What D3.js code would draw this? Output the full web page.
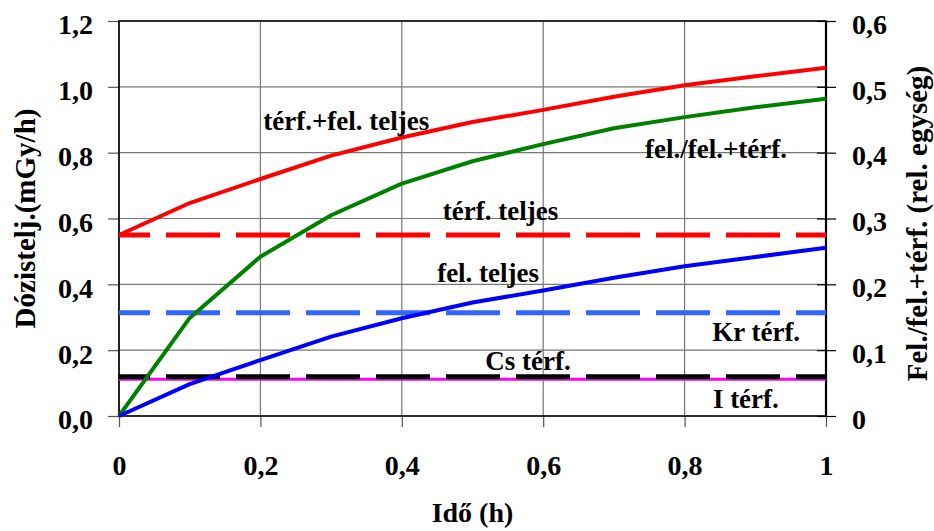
<!DOCTYPE html>
<html>
<head>
<meta charset="utf-8">
<script src="https://cdn.jsdelivr.net/npm/d3@7"></script>
<style>
  body { margin: 0; background: #fff; }
  svg { display: block; font-family: "Liberation Serif", "Times New Roman", serif; font-weight: bold; }
</style>
</head>
<body>
<svg id="chart" width="934" height="531"></svg>
<script>
// data
const time = [0, 0.1, 0.2, 0.3, 0.4, 0.5, 0.6, 0.7, 0.8, 0.9, 1];
const felTeljes = [0, 0.097, 0.170, 0.241, 0.297, 0.345, 0.381, 0.420, 0.455, 0.483, 0.511];
const terfFelTeljes = [0.55, 0.647, 0.720, 0.791, 0.846, 0.893, 0.930, 0.970, 1.005, 1.032, 1.058];
const felArany = [0, 0.149, 0.242, 0.305, 0.353, 0.387, 0.413, 0.437, 0.454, 0.469, 0.482]; // right axis

const terfTeljes = 0.55;
const krTerf = 0.314;
const csTerf = 0.1195;
const iTerf = 0.1115;

const xTicks = [0, 0.2, 0.4, 0.6, 0.8, 1];
const leftTicks = [0, 0.2, 0.4, 0.6, 0.8, 1.0, 1.2];
const rightTicks = [0, 0.1, 0.2, 0.3, 0.4, 0.5, 0.6];

const labels = ['térf.+fel. teljes', 'fel./fel.+térf.', 'térf. teljes', 'fel. teljes', 'Kr térf.', 'Cs térf.', 'I térf.'];
const labelAt = [[0.204, 0.869], [0.744, 0.783], [0.458, 0.595], [0.45, 0.407], [0.839, 0.228], [0.518, 0.14], [0.84, 0.024]];

// layout
const mLeft = 119, mRight = 826, mTop = 21, mBottom = 416;
const svg = d3.select('#chart');

const x = d3.scaleLinear().domain([0, 1]).range([mLeft, mRight]);
const yL = d3.scaleLinear().domain([0, 1.2]).range([mBottom, mTop]);
const yR = d3.scaleLinear().domain([0, 0.6]).range([mBottom, mTop]);

const comma = v => d3.format('.1f')(v).replace('.', ',');
const fmtX = v => (v === 0 || v === 1) ? String(v) : comma(v);
const fmtR = v => v === 0 ? '0' : comma(v);

// grid
svg.append('g').selectAll('line').data(leftTicks).join('line')
  .attr('x1', mLeft).attr('x2', mRight)
  .attr('y1', d => yL(d)).attr('y2', d => yL(d))
  .attr('stroke', '#777').attr('stroke-width', 1.2);
svg.append('g').selectAll('line').data(xTicks).join('line')
  .attr('x1', d => x(d)).attr('x2', d => x(d))
  .attr('y1', mTop).attr('y2', mBottom)
  .attr('stroke', '#777').attr('stroke-width', 1.2);

// axes
const styleAxis = g => {
  g.select('.domain').remove();
  g.selectAll('.tick line').attr('stroke', '#555').attr('stroke-width', 1.2);
  g.selectAll('.tick text').attr('fill', '#000').style('font-size', '28px')
    .style('font-family', '"Liberation Serif", serif').style('font-weight', 'bold');
};

const gL = svg.append('g').attr('transform', `translate(${mLeft},0)`)
  .call(d3.axisLeft(yL).tickValues(leftTicks).tickSize(11).tickPadding(15).tickFormat(comma))
  .call(styleAxis);
gL.selectAll('.tick text').attr('dy', '0.46em');

const gR = svg.append('g').attr('transform', `translate(${mRight},0)`)
  .call(d3.axisRight(yR).tickValues(rightTicks).tickSize(10).tickPadding(16).tickFormat(fmtR))
  .call(styleAxis);
gR.selectAll('.tick text').attr('dy', '0.44em');
gR.selectAll('.tick line').attr('x1', -9).attr('stroke', '#000');

const gX = svg.append('g').attr('transform', `translate(0,${mBottom})`)
  .call(d3.axisBottom(x).tickValues(xTicks).tickSize(11).tickPadding(28).tickFormat(fmtX))
  .call(styleAxis);

// frame
svg.append('path')
  .attr('d', `M${mLeft},${mTop}H${mRight}V${mBottom}H${mLeft}Z`)
  .attr('fill', 'none').attr('stroke', '#000').attr('stroke-width', 1.6);
svg.append('line').attr('x1', mRight).attr('x2', mRight).attr('y1', mTop).attr('y2', mBottom)
  .attr('stroke', '#000').attr('stroke-width', 2.2);

// horizontal constant lines
const ends = [time[0], time[time.length - 1]];
const flat = v => d3.line().x(d => x(d)).y(() => yL(v))(ends);

svg.append('path').attr('d', flat(iTerf))
  .attr('fill', 'none').attr('stroke', '#ff00ff').attr('stroke-width', 3);
const dashed = [[csTerf, '#000000'], [krTerf, '#3366ff'], [terfTeljes, '#ff0000']];
dashed.forEach(([v, c]) => {
  svg.append('path').attr('d', flat(v))
    .attr('fill', 'none').attr('stroke', c).attr('stroke-width', 5)
    .attr('stroke-dasharray', '54,16').attr('stroke-dashoffset', 23);
});

// curves
const lineL = d3.line().x((d, i) => x(time[i])).y(d => yL(d));
const lineR = d3.line().x((d, i) => x(time[i])).y(d => yR(d));

svg.append('path').attr('d', lineR(felArany))
  .attr('fill', 'none').attr('stroke', '#008000').attr('stroke-width', 4).attr('stroke-linejoin', 'round');
svg.append('path').attr('d', lineL(felTeljes))
  .attr('fill', 'none').attr('stroke', '#0000ff').attr('stroke-width', 4).attr('stroke-linejoin', 'round');
svg.append('path').attr('d', lineL(terfFelTeljes))
  .attr('fill', 'none').attr('stroke', '#ff0000').attr('stroke-width', 4).attr('stroke-linejoin', 'round');

// annotations
svg.append('g').selectAll('text').data(labels).join('text')
  .attr('x', (d, i) => x(labelAt[i][0]))
  .attr('y', (d, i) => yL(labelAt[i][1]))
  .style('font-size', '27px')
  .text(d => d);

// axis titles
svg.append('text')
  .attr('transform', `translate(35,${(mTop + mBottom) / 2}) rotate(-90)`)
  .attr('text-anchor', 'middle').style('font-size', '29px')
  .text('Dózistelj.(mGy/h)');
svg.append('text')
  .attr('transform', `translate(927,${(mTop + mBottom) / 2 + 5}) rotate(-90)`)
  .attr('text-anchor', 'middle').style('font-size', '29px')
  .text('Fel./fel.+térf. (rel. egység)');
svg.append('text')
  .attr('x', x(0.5)).attr('y', 522)
  .attr('text-anchor', 'middle').style('font-size', '28px')
  .text('Idő (h)');
</script>
</body>
</html>
